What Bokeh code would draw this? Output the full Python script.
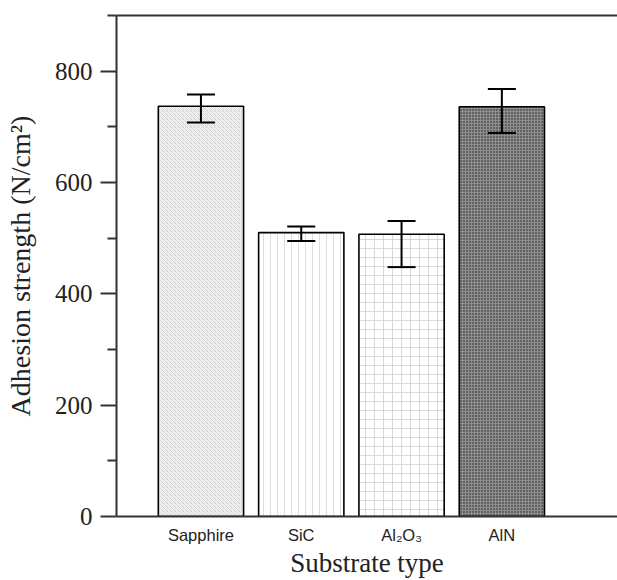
from bokeh.plotting import figure
from bokeh.models import (Range1d, LinearAxis, Whisker, TeeHead, ColumnDataSource,
                          FixedTicker)
from bokeh.embed import file_html
from bokeh.resources import INLINE

# ---- data ----
categories = ["Sapphire", "SiC", "Al\u2082O\u2083", "AlN"]
strength = [737, 510, 507, 736]
err_upper = [758, 521, 531, 768]
err_lower = [708, 495, 448, 689]
y_major_ticks = [0, 200, 400, 600, 800]
y_minor_ticks = [100, 300, 500, 700, 900]

# ---- styles ----
fill_colors = ["#f1f1f1", "#ffffff", "#ffffff", "#8e8e8e"]
hatch_patterns = ["diagonal_cross", "vertical_line", "cross", "dot"]
hatch_colors = ["#c4c4c4", "#d6d6d6", "#cfcfcf", "#1e1e1e"]
hatch_scales = [4, 7, 9, 3]
hatch_weights = [0.6, 0.8, 0.8, 1.0]

xs = list(range(1, len(categories) + 1))
src = ColumnDataSource(dict(
    x=xs, top=strength, upper=err_upper, lower=err_lower,
    fill=fill_colors, hp=hatch_patterns, hc=hatch_colors,
    hs=hatch_scales, hw=hatch_weights,
))

p = figure(width=617, height=580, x_range=Range1d(0.158, 5.153), y_range=Range1d(0, 900),
           output_backend="svg", toolbar_location=None,
           min_border_left=116, min_border_right=0, min_border_top=15, min_border_bottom=63)
p.outline_line_color = None
p.xgrid.visible = False
p.ygrid.visible = False
p.background_fill_color = "white"
p.border_fill_color = "white"

p.vbar(x="x", top="top", width=0.85, bottom=0, source=src,
       fill_color="fill", line_color="black", line_width=1.6,
       hatch_pattern="hp", hatch_color="hc", hatch_scale="hs", hatch_weight="hw")

head_u = TeeHead(size=28, line_width=2, line_color="black")
head_l = TeeHead(size=28, line_width=2, line_color="black")
p.add_layout(Whisker(source=src, base="x", upper="upper", lower="lower",
                     line_width=2, line_color="black", level="overlay",
                     upper_head=head_u, lower_head=head_l))

axis_color = "#333333"

# y axis
ya = p.yaxis[0]
ya.ticker = FixedTicker(ticks=y_major_ticks, minor_ticks=y_minor_ticks)
ya.axis_label = "Adhesion strength (N/cm\u00b2)"
ya.axis_label_text_font = "Liberation Serif"
ya.axis_label_text_font_style = "normal"
ya.axis_label_text_font_size = "28px"
ya.axis_label_text_color = "#222222"
ya.axis_label_standoff = 16
ya.major_label_text_font = "Liberation Serif"
ya.major_label_text_font_size = "25px"
ya.major_label_text_color = "#222222"
ya.major_label_standoff = 8
ya.major_tick_out = 16
ya.major_tick_in = 0
ya.minor_tick_out = 9
ya.minor_tick_in = 0
ya.axis_line_width = 2
ya.major_tick_line_width = 2
ya.minor_tick_line_width = 2
ya.axis_line_color = axis_color
ya.major_tick_line_color = axis_color
ya.minor_tick_line_color = axis_color

# x axis
xa = p.xaxis[0]
xa.ticker = FixedTicker(ticks=xs, minor_ticks=[])
xa.major_label_overrides = {x: c for x, c in zip(xs, categories)}
xa.axis_label = "Substrate type"
xa.axis_label_text_font = "Liberation Serif"
xa.axis_label_text_font_style = "normal"
xa.axis_label_text_font_size = "27px"
xa.axis_label_text_color = "#222222"
xa.axis_label_standoff = 1
xa.major_label_text_font = "Liberation Sans"
xa.major_label_text_font_size = "16.5px"
xa.major_label_text_color = "#222222"
xa.major_label_standoff = 9
xa.major_tick_out = 0
xa.major_tick_in = 0
xa.minor_tick_out = 0
xa.minor_tick_in = 0
xa.major_tick_line_color = None
xa.axis_line_width = 2
xa.axis_line_color = axis_color

# top frame line
top = LinearAxis(ticker=FixedTicker(ticks=[]), major_tick_out=0, major_tick_in=0,
                 minor_tick_out=0, minor_tick_in=0, major_label_text_font_size="0px",
                 axis_line_width=2, axis_line_color=axis_color)
p.add_layout(top, "above")

open("out.html", "w").write(file_html(p, INLINE))
